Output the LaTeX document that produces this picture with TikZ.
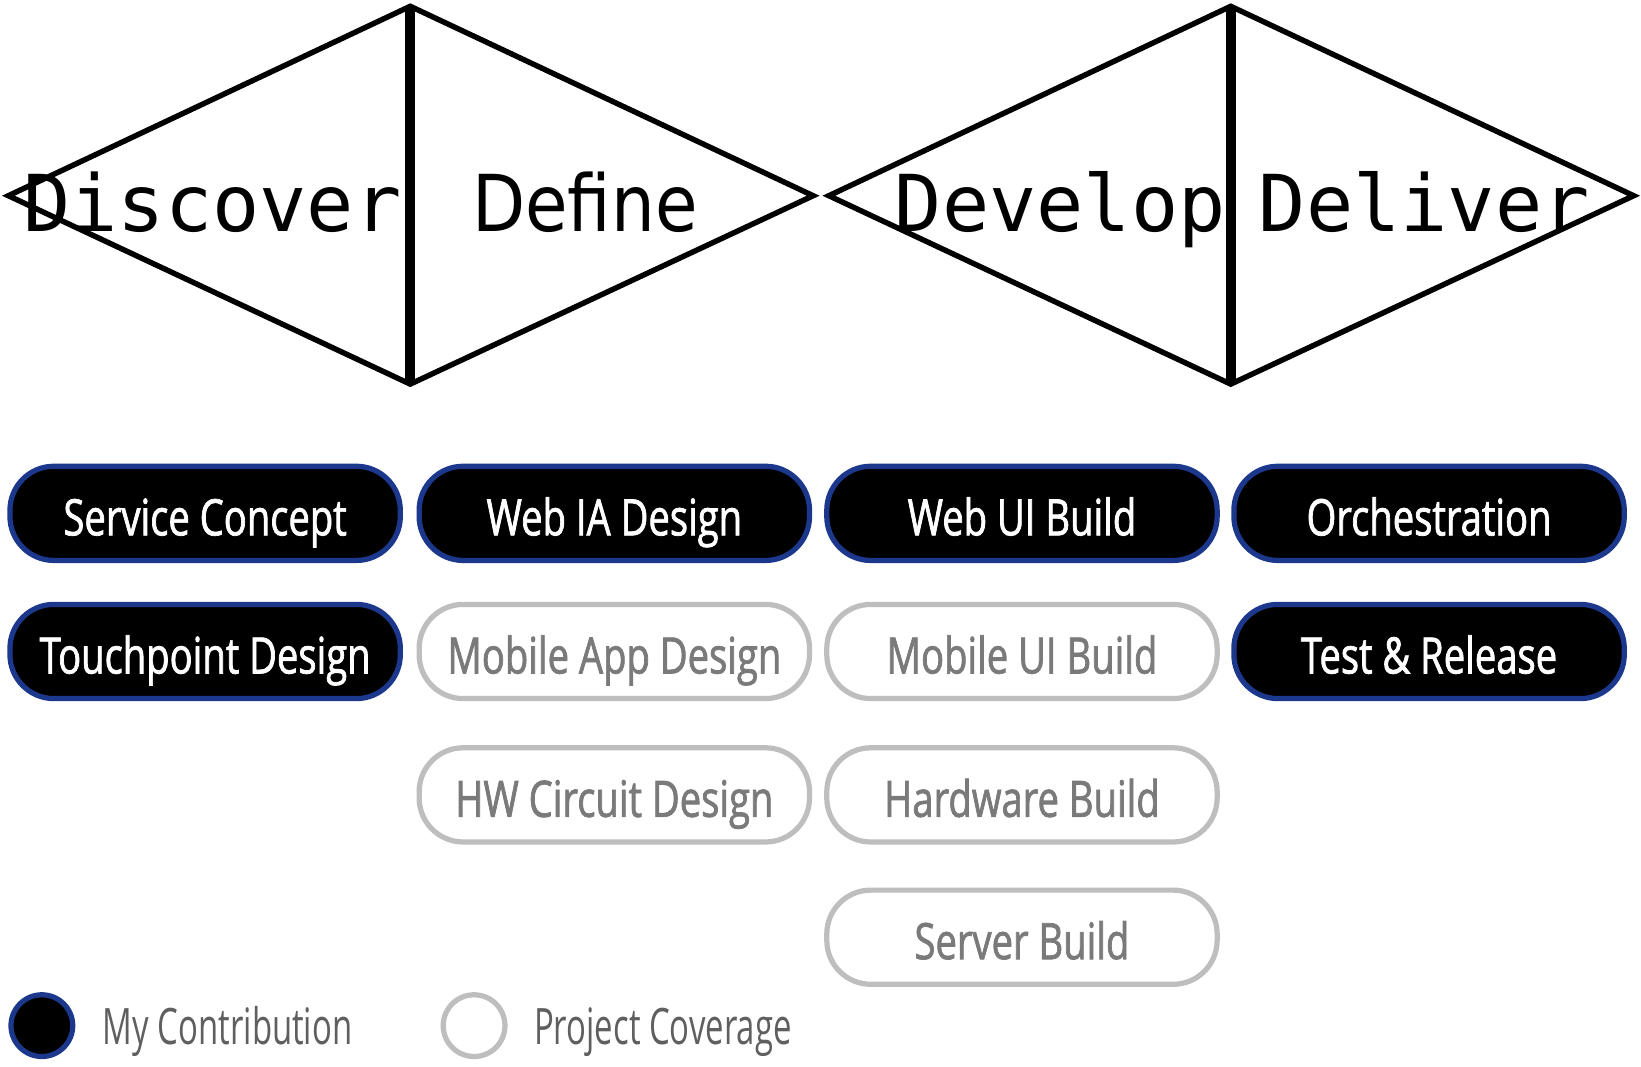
\documentclass[tikz,border=0pt]{standalone}
\usepackage{fontspec}
\newfontfamily\boxfont[FakeStretch=0.76,FakeBold=1.4]{Open Sans}
\newfontfamily\legfont[FakeStretch=0.655]{Open Sans}
\newfontfamily\phasemono{DejaVu Sans Mono}
\newfontfamily\phasesans[FakeStretch=0.88]{DejaVu Sans}
\definecolor{myblue}{RGB}{28,56,140}
\definecolor{pillgray}{RGB}{190,190,190}
\definecolor{txtgray}{RGB}{122,122,122}
\definecolor{leggray}{RGB}{95,95,95}
\tikzset{
  diam/.style={line width=2.6pt, line join=miter},
  midline/.style={line width=4.8pt},
  phase/.style={anchor=base, inner sep=0pt, font=\fontsize{37.5}{40}\selectfont},
  pill/.style={rectangle, rounded corners=21pt, minimum width=186.5pt, minimum height=45pt,
    line width=2.5pt, inner sep=0pt, font=\boxfont\fontsize{24}{26}\selectfont,
    text height=21pt, text depth=0pt},
  mine/.style={pill, draw=myblue, fill=black, text=white},
  cover/.style={pill, draw=pillgray, fill=white, text=txtgray},
  legdot/.style={circle, line width=2.5pt, minimum size=29.5pt, inner sep=0pt},
  legtext/.style={anchor=base west, inner sep=0pt, text=leggray, font=\legfont\fontsize{24}{26}\selectfont}
}
\begin{document}
\begin{tikzpicture}[x=0.5pt,y=-0.5pt]
\useasboundingbox (0,0) rectangle (1568,1019.5);
% diamonds
\draw[diam] (8,187) -- (392,6) -- (777,187) -- (392,367) -- cycle;
\draw[midline] (392,6) -- (392,367);
\draw[diam] (792,187) -- (1176,6) -- (1561,187) -- (1176,367) -- cycle;
\draw[midline] (1176,6) -- (1176,367);
\node[phase, font=\phasemono\fontsize{37.5}{40}\selectfont] (discover) at (203,221) {Discover};
\node[phase, font=\phasesans\fontsize{37.5}{40}\selectfont] (define) at (559,221) {Define};
\node[phase, font=\phasemono\fontsize{37.5}{40}\selectfont] (develop) at (1013,221) {Develop};
\node[phase, font=\phasemono\fontsize{37.5}{40}\selectfont] (deliver) at (1361,221) {Deliver};
% row 1
\node[mine] (service) at (196,490.5) {Service Concept};
\node[mine] (webia) at (587,490.5) {Web IA Design};
\node[mine] (webui) at (976.5,490.5) {Web UI Build};
\node[mine] (orch) at (1365.5,490.5) {Orchestration};
% row 2
\node[mine] (touch) at (196,622.5) {Touchpoint Design};
\node[cover] (mobapp) at (587,622.5) {Mobile App Design};
\node[cover] (mobui) at (976.5,622.5) {Mobile UI Build};
\node[mine] (test) at (1365.5,622.5) {Test \& Release};
% row 3
\node[cover] (hwcirc) at (587,759.5) {HW Circuit Design};
\node[cover] (hwbuild) at (976.5,759.5) {Hardware Build};
% row 4
\node[cover] (server) at (976.5,895.5) {Server Build};
% legend
\node[legdot, draw=myblue, fill=black] (dotmine) at (40,980) {};
\node[legtext] (legmine) at (98,998) {My Contribution};
\node[legdot, draw=pillgray, fill=white] (dotcover) at (453,980) {};
\node[legtext] (legcover) at (510,998) {Project Coverage};
\end{tikzpicture}
\end{document}
